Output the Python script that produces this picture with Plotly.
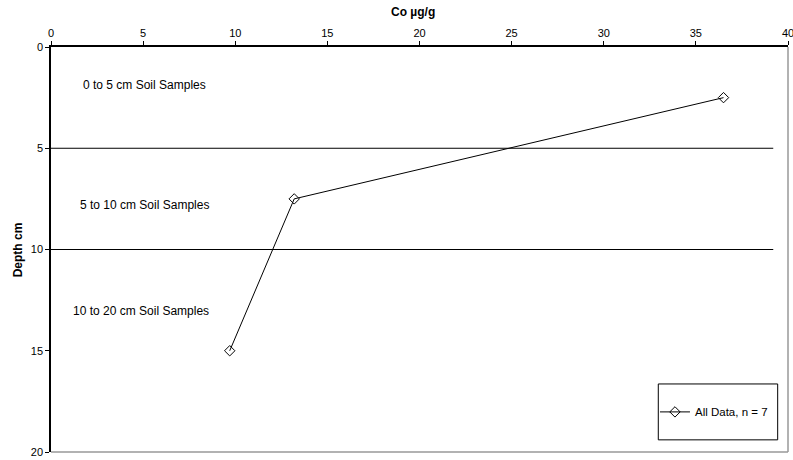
import plotly.graph_objects as go

# Data
co_values = [36.5, 13.2, 9.7]          # Co µg/g
depth_values = [2.5, 7.5, 15.0]        # Depth cm
series_name = "All Data, n = 7"

boundary_depths = [5, 10]
boundary_x = [0, 39.2]

zone_labels = ["0 to 5 cm Soil Samples", "5 to 10 cm Soil Samples", "10 to 20 cm Soil Samples"]
zone_label_x = [5.1, 5.05, 4.9]
zone_label_y = [1.9, 7.8, 13.05]

x_ticks = [0, 5, 10, 15, 20, 25, 30, 35, 40]
y_ticks = [0, 5, 10, 15, 20]

FONT = "Liberation Sans, Arial, sans-serif"

fig = go.Figure()

for d in boundary_depths:
    fig.add_trace(go.Scatter(
        x=boundary_x, y=[d, d], mode="lines",
        line=dict(color="black", width=1), showlegend=False, hoverinfo="skip"))

fig.add_trace(go.Scatter(
    x=co_values, y=depth_values, mode="lines+markers", name=series_name,
    line=dict(color="black", width=1),
    marker=dict(symbol="diamond-open", size=8, color="black", line=dict(width=1))))

for txt, xx, yy in zip(zone_labels, zone_label_x, zone_label_y):
    fig.add_annotation(x=xx, y=yy, text=txt, showarrow=False,
                       font=dict(family=FONT, size=12, color="black"))

# axis titles
fig.add_annotation(xref="paper", yref="paper", x=0.491, y=1.086, text="<b>Co µg/g</b>",
                   showarrow=False, xanchor="center", yanchor="middle",
                   font=dict(family=FONT, size=12, color="black"))
fig.add_annotation(xref="paper", yref="paper", x=-0.045, y=0.5, text="<b>Depth cm</b>",
                   showarrow=False, textangle=-90, xanchor="center", yanchor="middle",
                   font=dict(family=FONT, size=12, color="black"))

# plot frame: gray bottom and right edges
fig.add_shape(type="line", xref="paper", yref="paper", x0=0, x1=1, y0=0, y1=0,
              line=dict(color="#999999", width=1.5))
fig.add_shape(type="line", xref="paper", yref="paper", x0=1, x1=1, y0=0, y1=1,
              line=dict(color="#999999", width=1.5))
# legend box
fig.add_shape(type="rect", xref="paper", yref="paper", x0=0.824, x1=0.986, y0=0.030, y1=0.168,
              line=dict(color="black", width=1), fillcolor="white", layer="below")

fig.update_layout(
    width=793, height=460,
    margin=dict(l=51, r=5, t=47, b=8),
    paper_bgcolor="white", plot_bgcolor="white",
    font=dict(family=FONT, size=11, color="black"),
    showlegend=True,
    legend=dict(x=0.8195, y=0.099, xanchor="left", yanchor="middle",
                bgcolor="rgba(0,0,0,0)", borderwidth=0,
                font=dict(family=FONT, size=11.5, color="black")),
    xaxis=dict(side="top", range=[0, 40], tickvals=x_ticks, ticks="outside", ticklen=4,
               tickcolor="black", showline=True, linecolor="black", linewidth=1.5,
               showgrid=False, zeroline=False, automargin=False,
               ticklabeloverflow="allow",
               tickfont=dict(family=FONT, size=11)),
    yaxis=dict(range=[20, 0], tickvals=y_ticks, ticks="outside", ticklen=4,
               tickcolor="black", showline=True, linecolor="black", linewidth=1.5,
               showgrid=False, zeroline=False, automargin=False,
               ticklabeloverflow="allow",
               tickfont=dict(family=FONT, size=11)),
)

fig.write_html("out.html", config={"displayModeBar": False},
               post_script="document.body.style.margin='0';document.body.style.overflow='hidden';")
